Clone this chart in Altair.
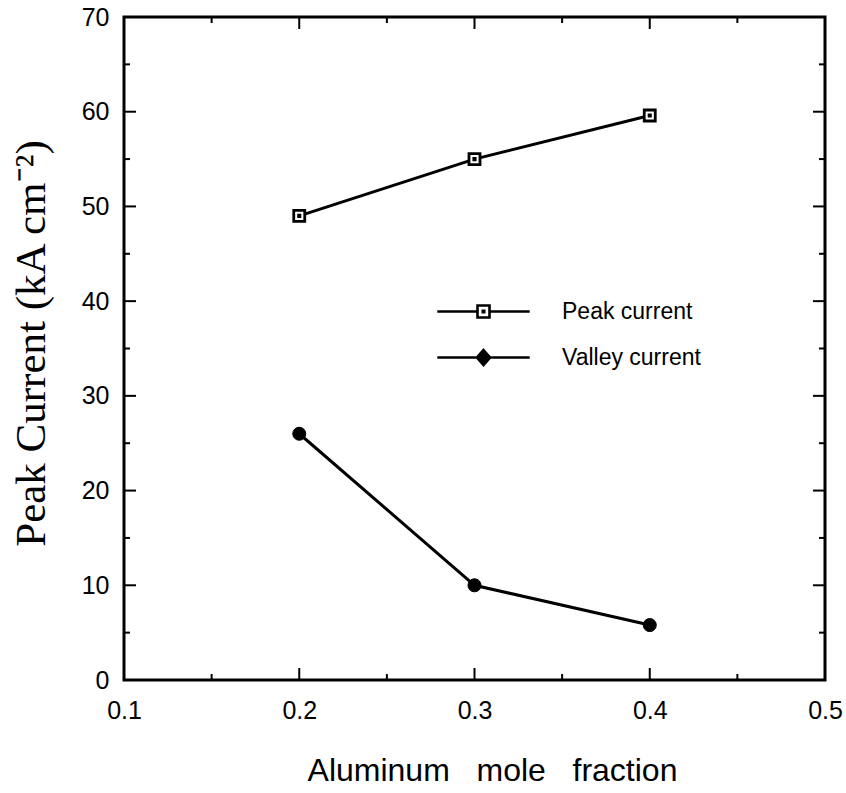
import altair as alt
import pandas as pd

# data
x_vals = [0.2, 0.3, 0.4]
peak = [49.0, 55.0, 59.6]
valley = [26.0, 10.0, 5.8]
series_names = ["Peak current", "Valley current"]

x_major = [0.1, 0.2, 0.3, 0.4, 0.5]
x_minor = [0.15, 0.25, 0.35, 0.45]
y_major = [0, 10, 20, 30, 40, 50, 60, 70]
y_minor = [5, 15, 25, 35, 45, 55, 65]

W, H = 701, 663

df = pd.DataFrame({
    "x": x_vals * 2,
    "y": peak + valley,
    "series": [series_names[0]] * 3 + [series_names[1]] * 3,
})
dpeak = df[df.series == series_names[0]]
dval = df[df.series == series_names[1]]

xs = alt.Scale(domain=[0.1, 0.5], nice=False, zero=False)
ys = alt.Scale(domain=[0, 70], nice=False)

SANS = "Liberation Sans"
SP = "\u00a0\u00a0 "

xaxis = alt.Axis(values=x_major, format=".1f", grid=False, domain=False, ticks=False,
                 labelFlush=False,
                 labelFont=SANS, labelFontSize=25, labelColor="black", labelPadding=18,
                 title=f"Aluminum{SP}mole{SP}fraction", titleFont=SANS, titleFontSize=32,
                 titleFontWeight="normal", titleColor="black",
                 titleX=368, titleY=100, titleAlign="center", titleBaseline="alphabetic")
yaxis = alt.Axis(values=y_major, format="d", grid=False, domain=False, ticks=False,
                 labelFlush=False,
                 labelFont=SANS, labelFontSize=25, labelColor="black", labelPadding=15,
                 title="Peak Current (kA cm⁻²)", titleFont="Liberation Serif", titleFontSize=43,
                 titleFontWeight="normal", titleColor="black",
                 titleX=-80, titleY=326, titleAngle=270, titleAlign="center",
                 titleBaseline="alphabetic")

X = lambda f: alt.X(f, scale=xs, axis=xaxis)
Y = lambda f: alt.Y(f, scale=ys, axis=yaxis)

lines = alt.Chart(df).mark_line(color="black", strokeWidth=3).encode(
    x=X("x:Q"), y=Y("y:Q"), detail="series:N",
)

PEAK_MARK = "M-1,-1H1V1H-1ZM-0.12,-0.12H0.12V0.12H-0.12Z"
VAL_MARK = "M0,-1.25L1.1,0L0,1.25L-1.1,0Z"

pk = alt.Chart(dpeak).mark_point(shape=PEAK_MARK, filled=True, fill="white", stroke="black",
                                 strokeWidth=2.8, size=121, opacity=1).encode(
    x=X("x:Q"), y=Y("y:Q"))
vl = alt.Chart(dval).mark_point(shape="circle", filled=True, fill="black", stroke="black",
                                strokeWidth=1, size=170, opacity=1).encode(
    x=X("x:Q"), y=Y("y:Q"))

PEAK_LEG = "M-7.7,0H-1M1,0H7.7" + PEAK_MARK
VAL_LEG = "M-7.7,0H-1M1,0H7.7" + VAL_MARK

leg = alt.Legend(orient="none", legendX=348, legendY=283, title=None, padding=0,
                 labelFont=SANS, labelFontSize=23, labelColor="black",
                 symbolSize=144, symbolStrokeWidth=2.6,
                 symbolOpacity=1, rowPadding=20, labelOffset=67)

legend_layer = alt.Chart(df).transform_filter("datum.x > 1").mark_point(
    filled=False, strokeWidth=2.6, size=144).encode(
    x=X("x:Q"), y=Y("y:Q"),
    shape=alt.Shape("series:N", scale=alt.Scale(domain=series_names, range=[PEAK_LEG, VAL_LEG]), legend=leg),
    fill=alt.Fill("series:N", scale=alt.Scale(domain=series_names, range=["white", "black"]), legend=leg),
    stroke=alt.Stroke("series:N", scale=alt.Scale(domain=series_names, range=["black", "black"]), legend=leg),
)

MAJ, MIN = 12, 6
def xticks(vals, L):
    d = pd.DataFrame({"v": vals})
    bot = alt.Chart(d).mark_rule(color="black", strokeWidth=2).encode(
        x=X("v:Q"), y=alt.value(H), y2=alt.value(H - L))
    top = alt.Chart(d).mark_rule(color="black", strokeWidth=2).encode(
        x=X("v:Q"), y=alt.value(0), y2=alt.value(L))
    return [bot, top]

def yticks(vals, L):
    d = pd.DataFrame({"v": vals})
    lft = alt.Chart(d).mark_rule(color="black", strokeWidth=2).encode(
        y=Y("v:Q"), x=alt.value(0), x2=alt.value(L))
    rgt = alt.Chart(d).mark_rule(color="black", strokeWidth=2).encode(
        y=Y("v:Q"), x=alt.value(W), x2=alt.value(W - L))
    return [lft, rgt]

ticks = xticks(x_major, MAJ) + xticks(x_minor, MIN) + yticks(y_major, MAJ) + yticks(y_minor, MIN)

chart = alt.layer(lines, *ticks, pk, vl, legend_layer).properties(
    width=W, height=H,
    autosize=alt.AutoSizeParams(type="none"),
    padding={"left": 124, "top": 17, "right": 21, "bottom": 113},
    background="white",
).configure_view(stroke="black", strokeWidth=3)

chart.save("out.html", embed_options={"renderer": "svg", "actions": False})
